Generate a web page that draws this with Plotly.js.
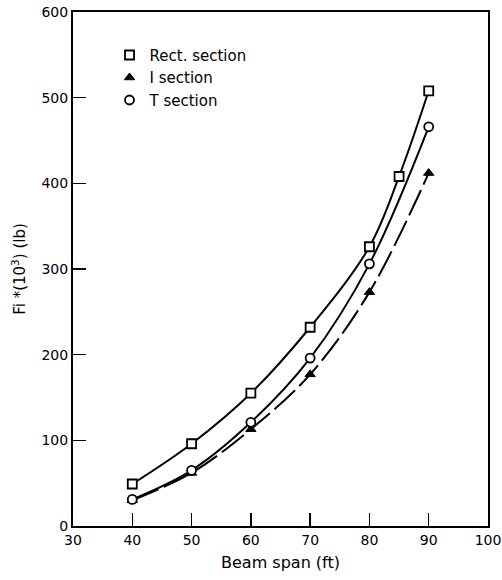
<!DOCTYPE html>
<html>
<head>
<meta charset="utf-8">
<script src="https://cdn.plot.ly/plotly-3.0.1.min.js"></script>
<style>html,body{margin:0;padding:0;background:#fff;}#chart{width:502px;height:580px;}</style>
</head>
<body>
<div id="chart"></div>
<script>
const span = [40, 50, 60, 70, 80, 90];
const rectSpan = [40, 50, 60, 70, 80, 85, 90];
const rectVals = [49, 96, 155, 232, 326, 408, 508];
const iVals = [30, 62, 113, 177, 273, 412];
const tVals = [31, 65, 121, 196, 306, 466];
const seriesNames = ['Rect. section', 'I section', 'T section'];

const fam = 'DejaVu Sans, Verdana, sans-serif';

const traces = [
  {x: rectSpan, y: rectVals, mode: 'lines', line: {color: '#000', width: 2, shape: 'spline'}, showlegend: false, hoverinfo: 'skip'},
  {x: span, y: tVals, mode: 'lines', line: {color: '#000', width: 2, shape: 'spline'}, showlegend: false, hoverinfo: 'skip'},
  {x: span, y: iVals, mode: 'lines', line: {color: '#000', width: 2, shape: 'spline', dash: '28px,6px'}, showlegend: false, hoverinfo: 'skip'},
  {x: rectSpan, y: rectVals, mode: 'markers', name: seriesNames[0],
   marker: {symbol: 'square', size: 9, color: '#fff', line: {color: '#000', width: 1.8}}},
  {x: span, y: iVals, mode: 'markers', name: seriesNames[1],
   marker: {symbol: 'triangle-up', size: 9, color: '#000', line: {color: '#000', width: 1}}},
  {x: span, y: tVals, mode: 'markers', name: seriesNames[2],
   marker: {symbol: 'circle', size: 9, color: '#fff', line: {color: '#000', width: 1.8}}}
];

const layout = {
  width: 502, height: 580,
  margin: {l: 73, r: 14, t: 12, b: 54},
  paper_bgcolor: '#fff', plot_bgcolor: '#fff',
  font: {family: fam, size: 14, color: '#000'},
  xaxis: {
    range: [30, 100], dtick: 10, tick0: 30,
    ticks: 'inside', ticklen: 13, tickwidth: 1.5, tickcolor: '#000',
    showline: true, linecolor: '#000', linewidth: 2, mirror: true,
    showgrid: false, zeroline: false,
    ticklabeloverflow: 'allow',
    tickfont: {family: fam, size: 14, color: '#000'},
    title: {text: 'Beam span (ft)', font: {family: fam, size: 16, color: '#000'}, standoff: 10}
  },
  yaxis: {
    range: [0, 600], dtick: 100,
    ticks: 'inside', ticklen: 13, tickwidth: 1.5, tickcolor: '#000',
    showline: true, linecolor: '#000', linewidth: 2, mirror: true,
    showgrid: false, zeroline: false,
    tickfont: {family: fam, size: 14, color: '#000'},
    title: {text: 'Fi *(10<sup>3</sup>) (lb)', font: {family: fam, size: 15, color: '#000'}, standoff: 12}
  },
  legend: {
    x: 0.088, y: 0.948, xanchor: 'left', yanchor: 'top',
    bgcolor: 'rgba(0,0,0,0)', borderwidth: 0,
    font: {family: fam, size: 15, color: '#000'},
    itemwidth: 30, tracegroupgap: 0
  },
  showlegend: true
};

Plotly.newPlot('chart', traces, layout, {displayModeBar: false, staticPlot: true});
</script>
</body>
</html>
